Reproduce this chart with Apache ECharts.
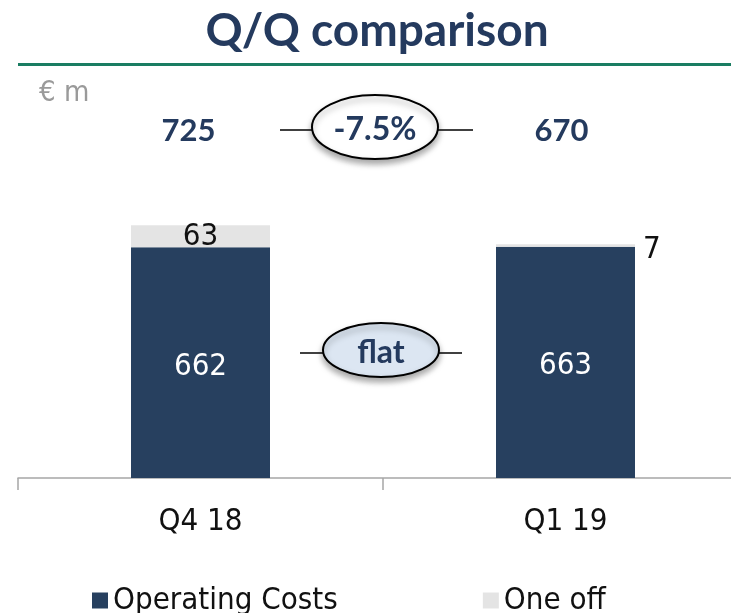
<!DOCTYPE html>
<html>
<head>
<meta charset="utf-8">
<script src="https://cdn.jsdelivr.net/npm/echarts@6/dist/echarts.min.js"></script>
<style>
  html, body { margin: 0; padding: 0; background: #fff; }
  #main { width: 731px; height: 613px; }
</style>
</head>
<body>
<div id="main"></div>
<script>
// quarters and values (€ m)
const categories = ['Q4 18', 'Q1 19'];
const operatingCosts = [662, 663];
const oneOff = [63, 7];
const changeTotal = '-7.5%';
const changeOperating = 'flat';

const NAVY = '#27405f';
const GREY = '#e4e4e4';
const TEXT_NAVY = '#243a5e';
const thinFont = '"DejaVu Sans Condensed", "Liberation Sans Narrow", "Noto Sans", sans-serif';
const boldFont = 'Lato, "Noto Sans", sans-serif';

const totals = operatingCosts.map((v, i) => v + oneOff[i]);

let myChart = echarts.init(document.getElementById('main'));

let option = {
    animation: false,
    grid: { left: 18, width: 730, top: 199, height: 279, outerBoundsMode: 'none' },
    legend: {
        data: ['Operating Costs', 'One off'],
        left: 87,
        top: 580,
        icon: 'rect',
        itemWidth: 16,
        itemHeight: 16,
        itemGap: 145,
        textStyle: { fontSize: 31, color: '#111', fontFamily: thinFont }
    },
    xAxis: {
        type: 'category',
        data: categories,
        axisLine: { lineStyle: { color: '#a6a6a6', width: 1.5 } },
        axisTick: { show: true, length: 12, lineStyle: { color: '#a6a6a6', width: 1.5 } },
        axisLabel: { fontSize: 31, color: '#111', margin: 28, fontFamily: thinFont }
    },
    yAxis: {
        type: 'value',
        min: 0,
        max: 800,
        show: false
    },
    series: [
        {
            name: 'Operating Costs',
            type: 'bar',
            stack: 'cost',
            barWidth: 139,
            itemStyle: { color: NAVY },
            label: {
                show: true,
                position: 'inside',
                offset: [0, 4],
                color: '#fff',
                fontSize: 31,
                fontFamily: thinFont
            },
            data: operatingCosts
        },
        {
            name: 'One off',
            type: 'bar',
            stack: 'cost',
            itemStyle: { color: GREY },
            label: {
                show: true,
                color: '#111',
                fontSize: 31,
                fontFamily: thinFont
            },
            data: oneOff.map((v, i) => ({
                value: v,
                label: i === 0 ? { position: 'inside', offset: [0, 1] } : { position: 'right', distance: 8, offset: [0, 4] }
            }))
        }
    ]
};
myChart.setOption(option);

const x0 = myChart.convertToPixel({ xAxisIndex: 0 }, categories[0]);
const x1 = myChart.convertToPixel({ xAxisIndex: 0 }, categories[1]);

function bubble(cx, cy, rx, ry, fill, txt, lineL, lineR) {
    return [
        { type: 'line', shape: { x1: cx - lineL, y1: cy + 3, x2: cx + lineR, y2: cy + 3 }, style: { stroke: '#000', lineWidth: 1.5 }, z: 10 },
        {
            type: 'ellipse',
            shape: { cx: cx, cy: cy, rx: rx, ry: ry },
            style: { fill: fill, stroke: '#000', lineWidth: 2, shadowBlur: 6, shadowOffsetY: 4, shadowColor: 'rgba(0,0,0,0.35)' },
            z: 11
        },
        {
            type: 'text',
            x: cx, y: cy + 3,
            style: { text: txt, fill: TEXT_NAVY, font: 'bold 32px ' + boldFont, align: 'center', verticalAlign: 'middle' },
            z: 12
        }
    ];
}

myChart.setOption({
    graphic: [
        {
            type: 'text', x: 377, y: 31,
            style: { text: 'Q/Q comparison', fill: TEXT_NAVY, font: 'bold 46px ' + boldFont, align: 'center', verticalAlign: 'middle' }
        },
        { type: 'rect', shape: { x: 18, y: 63, width: 713, height: 3 }, style: { fill: '#1a7d62' } },
        {
            type: 'text', x: 39, y: 93,
            style: { text: '€ m', fill: '#9a9a9a', font: '29px ' + thinFont, align: 'left', verticalAlign: 'middle' }
        },
        {
            type: 'text', x: x0 - 12, y: 131,
            style: { text: String(totals[0]), fill: TEXT_NAVY, font: 'bold 31px ' + boldFont, align: 'center', verticalAlign: 'middle' }
        },
        {
            type: 'text', x: x1 - 4, y: 131,
            style: { text: String(totals[1]), fill: TEXT_NAVY, font: 'bold 31px ' + boldFont, align: 'center', verticalAlign: 'middle' }
        },
        ...bubble(375, 127, 63, 32, '#fff', changeTotal, 95, 98),
        ...bubble(381, 350, 58, 27, '#dce6f2', changeOperating, 81, 81)
    ]
});
</script>
</body>
</html>
